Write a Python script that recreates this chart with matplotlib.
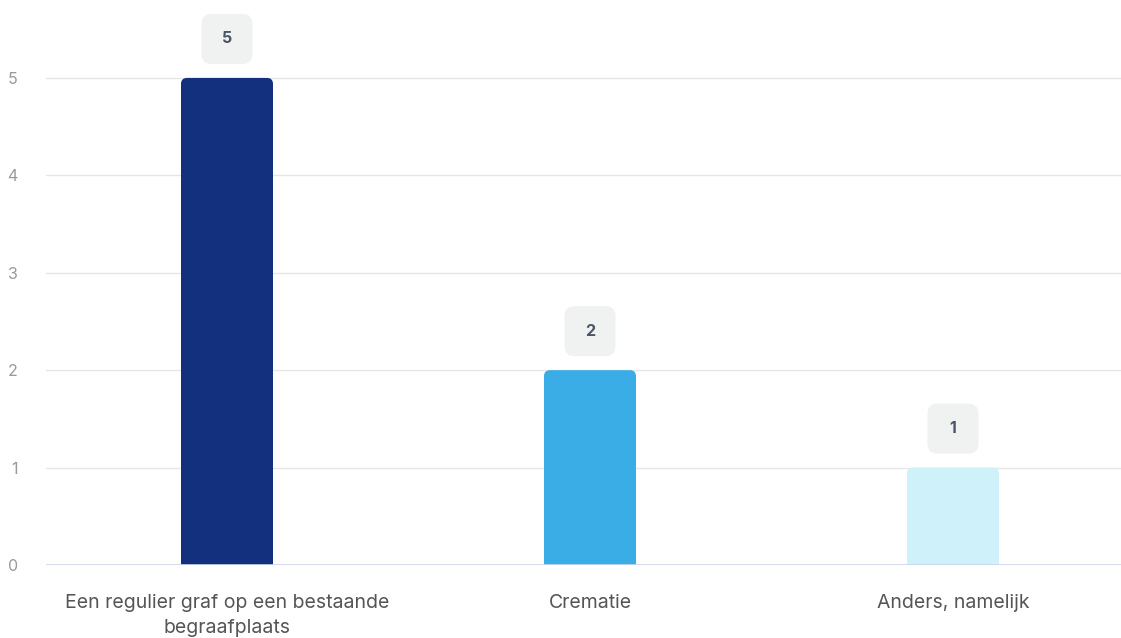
import matplotlib.pyplot as plt
from matplotlib.patches import FancyBboxPatch

categories = ['Een regulier graf op een bestaande\nbegraafplaats', 'Crematie', 'Anders, namelijk']
values = [5, 2, 1]
colors = ['#13307f', '#3aace6', '#cff1fa']
yticks = [0, 1, 2, 3, 4, 5]

plt.rcParams['font.family'] = ['Inter', 'DejaVu Sans']

fig = plt.figure(figsize=(11.21, 6.38), dpi=100)
ax = fig.add_axes([45.5 / 1121, 73 / 638, 1089 / 1121, 565 / 638])
ax.set_xlim(-0.5, 2.5)
ax.set_ylim(0, 5.8)

# pixel -> data scale factors
px_x = 1 / 363.0
px_y = 1 / 97.4
aspect = px_y / px_x

bar_w = 92 * px_x
for i, (v, c) in enumerate(zip(values, colors)):
    bar = FancyBboxPatch((i - bar_w / 2, -0.3), bar_w, v + 0.3,
                         boxstyle='round,pad=0,rounding_size=%f' % (6 * px_x),
                         mutation_aspect=aspect, facecolor=c, edgecolor='none', zorder=3)
    ax.add_patch(bar)
    # value label box
    bw = 51 * px_x
    bh = 50 * px_y
    by = v + 14 * px_y
    box = FancyBboxPatch((i - bw / 2, by), bw, bh,
                         boxstyle='round,pad=0,rounding_size=%f' % (10 * px_x),
                         mutation_aspect=aspect, facecolor='#f0f1f1', edgecolor='none',
                         zorder=4, clip_on=False)
    ax.add_patch(box)
    ax.text(i, by + bh / 2, str(v), ha='center', va='center', fontsize=11.5,
            fontweight='bold', color='#4a5568', zorder=5)

for y in yticks[1:]:
    ax.axhline(y, color='#e6e6e6', lw=1, zorder=1)
ax.axhline(0, color='#cdd5ee', lw=1.2, zorder=4)

ax.set_xticks(range(len(categories)))
ax.set_xticklabels(categories, fontsize=14, color='#555555', linespacing=1.5)
ax.set_yticks(yticks)
ax.set_yticklabels([str(y) for y in yticks], fontsize=11.5, color='#999999')
ax.tick_params(axis='x', length=0, pad=21)
ax.tick_params(axis='y', length=0, pad=20)
for s in ax.spines.values():
    s.set_visible(False)

plt.savefig('out.png', dpi=100)
